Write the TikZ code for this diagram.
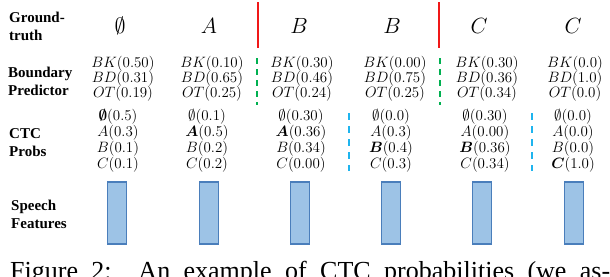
\documentclass[tikz,border=0pt]{standalone}
\usepackage{fix-cm}
\usepackage{amsmath,bm}
\usepackage{fontspec}
\setmainfont{Liberation Serif}
\definecolor{barfill}{HTML}{9DC3E6}
\definecolor{barline}{HTML}{4A7EBB}
\definecolor{segred}{HTML}{F01818}
\definecolor{bdgreen}{HTML}{00B050}
\definecolor{ctcblue}{HTML}{1FB4EE}
\tikzset{
	rowlabel/.style={anchor=west, align=left, inner sep=0pt, font=\fontsize{15}{18}\selectfont\bfseries},
	gtletter/.style={anchor=base, inner sep=0pt, font=\fontsize{22}{26}\selectfont},
	bpcell/.style={align=center, inner sep=0pt, font=\fontsize{15}{15}\selectfont},
	ctccell/.style={align=center, inner sep=0pt, font=\fontsize{15}{14.7}\selectfont},
	featbar/.style={draw=barline, fill=barfill, line width=1.2pt, minimum width=19pt, minimum height=62pt, inner sep=0pt},
	segline/.style={segred, line width=2pt},
	bddash/.style={bdgreen, line width=1.6pt, dash pattern=on 6pt off 5pt},
	ctcdash/.style={ctcblue, line width=1.6pt, dash pattern=on 7pt off 6pt}
}
\begin{document}
\begin{tikzpicture}[x=1pt,y=-1pt]
	\useasboundingbox (0,0) rectangle (610,276);
	\clip (0,0) rectangle (610,276);
	\node[rowlabel] (lgt) at (9,26) {Ground-\\truth};
	\node[rowlabel] (lbp) at (8,81) {Boundary\\Predictor};
	\node[rowlabel] (lctc) at (9,143) {CTC\\Probs};
	\node[rowlabel] (lsf) at (11,214) {Speech\\Features};
	
	\foreach \i/\x/\t in {1/120/\emptyset, 2/209/A, 3/299/B, 4/392/B, 5/479/C, 6/573/C}
		\node[gtletter] (gt\i) at (\x,33) {$\t$};
	
	\foreach \i/\x/\a/\b/\c in {1/123/0.50/0.31/0.19, 2/212/0.10/0.65/0.25, 3/302/0.30/0.46/0.24, 4/395/0.00/0.75/0.25, 5/487/0.30/0.36/0.34, 6/575/0.0/1.0/0.0}
		\node[bpcell] (bp\i) at (\x,79) {$BK(\a)$\\$BD(\b)$\\$OT(\c)$};
	
	\foreach \i/\x/\t in {1/118/{$\bm{\emptyset}(0.5)$\\$A(0.3)$\\$B(0.1)$\\$C(0.1)$},
		2/207/{$\emptyset(0.1)$\\$\bm{A}(0.5)$\\$B(0.2)$\\$C(0.2)$},
		3/301/{$\emptyset(0.30)$\\$\bm{A}(0.36)$\\$B(0.34)$\\$C(0.00)$},
		4/391/{$\emptyset(0.0)$\\$A(0.3)$\\$\bm{B}(0.4)$\\$C(0.3)$},
		5/485/{$\emptyset(0.30)$\\$A(0.00)$\\$\bm{B}(0.36)$\\$C(0.34)$},
		6/573/{$\emptyset(0.0)$\\$A(0.0)$\\$B(0.0)$\\$\bm{C}(1.0)$}}
		\node[ctccell] (ctc\i) at (\x,141) {\t};
	
	\foreach \i/\x in {1/117, 2/209, 3/300, 4/391, 5/482, 6/574}
		\node[featbar] (sf\i) at (\x,213) {};
	
	\foreach \x in {258, 439} \draw[segline] (\x,2)--(\x,48);
	\foreach \x in {257, 440} \draw[bddash] (\x,58)--(\x,105);
	\foreach \x in {349, 532} \draw[ctcdash] (\x,113)--(\x,171);
	
	\node[anchor=base west, inner sep=0pt, font=\fontsize{26}{30}\selectfont] (cap) at (10,279) {\makebox[600pt][s]{Figure 2:\ \ An example of CTC probabilities (we as-}};
\end{tikzpicture}
\end{document}
